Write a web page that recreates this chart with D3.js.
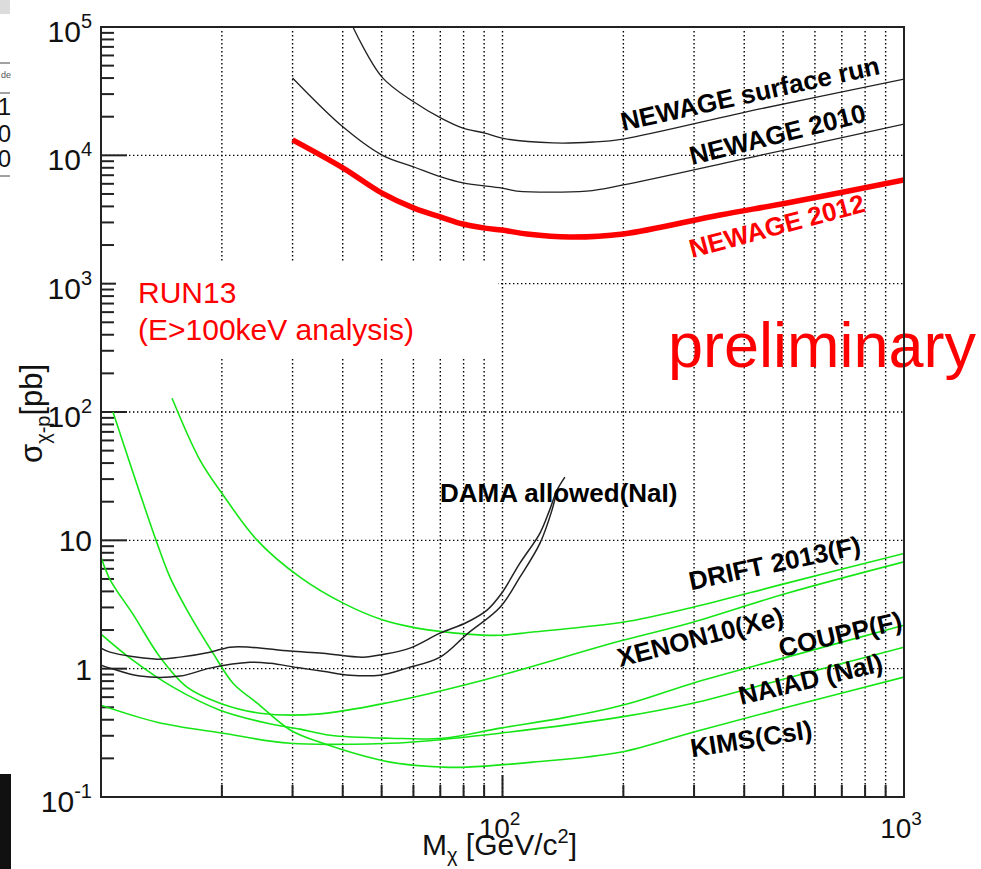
<!DOCTYPE html>
<html>
<head>
<meta charset="utf-8">
<script src="https://cdn.jsdelivr.net/npm/d3@7"></script>
<style>
	body{margin:0;background:#fff;}
	text{font-family:"Liberation Sans",Arial,Helvetica,sans-serif;}
</style>
</head>
<body>
<svg id="chart" width="981" height="869"></svg>
<script>
// ***************** DATA (mass GeV/c2, sigma pb) ********************
var newageSurface = [[42.4,1e5],[50.1,40700],[60.2,26000],[70.3,19500],[79.7,16300],[90.4,14900],[99.7,13600],[133.6,12500],[168,12700],[199.6,13400],[437.6,23000],[1000,39300]];
var newage2010 = [[30,40100],[40.1,16600],[50.1,10050],[60.2,8110],[70.3,6780],[79.7,6090],[99.7,5560],[108.5,5270],[162,5270],[199.6,5880],[437.6,10000],[1000,17500]];
var newage2012 = [[30,13200],[40.1,7960],[50.1,5080],[60.2,3880],[70.3,3300],[79.7,2915],[90.4,2710],[99.7,2615],[115,2440],[147,2310],[200,2440],[348,3430],[511,4250],[1000,6420]];
var damaUpper = [[10,1.445],[10.53,1.345],[13.79,1.186],[15.74,1.23],[18.68,1.345],[20.96,1.47],[23.5,1.47],[29.6,1.37],[35.7,1.32],[44.9,1.23],[50.4,1.29],[58.8,1.445],[69.9,1.89],[81.6,2.3],[91.5,2.86],[99.5,3.87],[110.5,6.64],[124,11.4],[131,17.2],[136.7,24.6],[143,31.1]];
var damaLower = [[10,1.065],[10.53,1.01],[12.5,0.875],[15.74,0.875],[18.68,1.01],[23.5,1.12],[26.4,1.1],[30.8,1.02],[35.7,0.955],[41.7,0.89],[49.5,0.89],[57.8,1.01],[69.9,1.23],[81.6,1.86],[98.6,3.01],[110.5,5.16],[124,9.5],[132.8,17.2],[136.7,24.6]];
var drift = [[15.03,128],[17.64,42.2],[20,23.3],[24.5,10],[31.3,5.17],[40.1,3.24],[50.4,2.39],[61.2,2.07],[81.6,1.86],[98.6,1.82],[119,1.93],[158.7,2.11],[207.7,2.35],[298,3.01],[511,4.64],[1000,7.9]];
var xenon10 = [[10,7.4],[10.53,4.95],[12.02,2.65],[14.03,1.23],[16.38,0.718],[19.79,0.538],[24.89,0.45],[34.5,0.442],[52.5,0.548],[89.4,0.813],[196.2,1.64],[298,2.3],[511,3.87],[1000,6.8]];
var coupp = [[10,1.86],[12.02,1.16],[15.11,0.718],[19.79,0.475],[25.91,0.376],[31.3,0.338],[37.2,0.303],[52.5,0.287],[71.1,0.287],[98.6,0.344],[144.7,0.419],[207.7,0.538],[298,0.771],[511,1.23],[1000,2.18]];
var naiad = [[10,0.519],[13.79,0.383],[20.13,0.314],[29.6,0.262],[52.5,0.262],[58.8,0.267],[98.6,0.314],[196.2,0.419],[298,0.538],[511,0.843],[1000,1.47]];
var kims = [[10.71,99.8],[12.5,23.3],[13.79,9.51],[14.85,5.17],[16.38,2.86],[19.01,1.32],[21.32,0.771],[24.5,0.538],[29.6,0.333],[35.7,0.262],[52.5,0.187],[71.1,0.171],[81.6,0.171],[119,0.187],[196.2,0.223],[298,0.32],[511,0.501],[1000,0.859]];

var yDecades = [1e5,1e4,1e3,1e2,10,1,0.1];
var yLabelBase = ['10','10','10','10','10','1','10'];
var yLabelExp = ['5','4','3','2','','','-1'];
var xMajor = [100,1000];
var xLabelExp = ['2','3'];

// curve labels: text, anchor mass, anchor sigma, angle
var curveLabels = [
	{text:'NEWAGE surface run', m:199.5, s:15460, angle:-12.5, fill:'#000'},
	{text:'NEWAGE 2010', m:296.5, s:8400, angle:-14, fill:'#000'},
	{text:'NEWAGE 2012', m:296.5, s:1585, angle:-15, fill:'#f00'},
	{text:'DAMA allowed(NaI)', m:69.9, s:19.9, angle:0, fill:'#000'},
	{text:'DRIFT 2013(F)', m:294.8, s:4.09, angle:-12, fill:'#000'},
	{text:'XENON10(Xe)', m:196.2, s:1.03, angle:-14.5, fill:'#000'},
	{text:'COUPP(F)', m:493.9, s:1.23, angle:-13, fill:'#000'},
	{text:'NAIAD (NaI)', m:392.6, s:0.52, angle:-13.5, fill:'#000'},
	{text:'KIMS(CsI)', m:296.5, s:0.204, angle:-9, fill:'#000'}
];

// ***************** SCALES ********************
var margin = {left:101, right:904, top:27, bottom:797};
var svg = d3.select('#chart');
var x = d3.scaleLog().domain([10,1000]).range([margin.left, margin.right]);
var y = d3.scaleLog().domain([0.1,1e5]).range([margin.bottom, margin.top]);

// minor positions inside each decade
var minorVals = function(lo, hi){
	var out = [];
	for (var d = lo; d < hi; d *= 10) {
		for (var k = 2; k < 10; k++) out.push(d*k);
	}
	return out;
};
var xMinor = minorVals(10,1000);
var yMinor = minorVals(0.1,1e5);

// ***************** LEFT EDGE LEFTOVERS OF THE SLIDE ********************
var drawLeftovers = function(){
	svg.append('rect').attr('x',0).attr('y',0).attr('width',10).attr('height',14).attr('fill','#dcdcdc');
	svg.append('line').attr('x1',0).attr('x2',10).attr('y1',63).attr('y2',63).attr('stroke','#444');
	svg.append('line').attr('x1',0).attr('x2',10).attr('y1',93).attr('y2',93).attr('stroke','#444');
	svg.append('line').attr('x1',0).attr('x2',10).attr('y1',176).attr('y2',176).attr('stroke','#444');
	svg.append('text').attr('x',11).attr('y',78).attr('text-anchor','end').attr('font-size',9).attr('fill','#555').text('de');
	[['1',115],['0',142],['0',167]].forEach(function(t){
		svg.append('text').attr('x',11).attr('y',t[1]).attr('text-anchor','end').attr('font-size',24).attr('fill','#111').text(t[0]);
	});
	svg.append('rect').attr('x',0).attr('y',774).attr('width',11).attr('height',95).attr('fill','#111');
};

// ***************** GRID ********************
var drawGrid = function(){
	var vx = xMinor.concat([100]);
	svg.selectAll('.vgrid').data(vx).enter().append('line').classed('vgrid',true)
		.attr('x1',function(d){return x(d)}).attr('x2',function(d){return x(d)})
		.attr('y1',margin.top+4).attr('y2',margin.bottom)
		.attr('stroke','#000').attr('stroke-width',1.4).attr('stroke-dasharray','1.4,2.6');
	var hy = [1e4,1e3,1e2,10,1];
	svg.selectAll('.hgrid').data(hy).enter().append('line').classed('hgrid',true)
		.attr('x1',margin.left).attr('x2',margin.right)
		.attr('y1',function(d){return y(d)}).attr('y2',function(d){return y(d)})
		.attr('stroke','#000').attr('stroke-width',1.4).attr('stroke-dasharray','1.4,2.6');
};

// ***************** TICKS ********************
var drawTicks = function(){
	var g = svg.append('g').attr('stroke','#222').attr('stroke-width',2);
	g.selectAll('.ymin').data(yMinor).enter().append('line')
		.attr('x1',margin.left).attr('x2',margin.left+13)
		.attr('y1',function(d){return y(d)}).attr('y2',function(d){return y(d)});
	g.selectAll('.ymaj').data(yDecades).enter().append('line')
		.attr('x1',margin.left).attr('x2',margin.left+26)
		.attr('y1',function(d){return y(d)}).attr('y2',function(d){return y(d)});
	g.selectAll('.xmin').data(xMinor).enter().append('line')
		.attr('x1',function(d){return x(d)}).attr('x2',function(d){return x(d)})
		.attr('y1',margin.bottom).attr('y2',margin.bottom-12);
	g.selectAll('.xmaj').data(xMajor).enter().append('line')
		.attr('x1',function(d){return x(d)}).attr('x2',function(d){return x(d)})
		.attr('y1',margin.bottom).attr('y2',margin.bottom-22);
};

// ***************** CURVES ********************
var line = d3.line()
	.x(function(d){return x(d[0])})
	.y(function(d){return y(d[1])})
	.curve(d3.curveCatmullRom.alpha(0.5));

var drawCurve = function(data, color, width){
	svg.append('path')
		.datum(data)
		.attr('clip-path','url(#plotclip)')
		.attr('d',line)
		.attr('fill','none')
		.attr('stroke',color)
		.attr('stroke-width',width)
		.attr('stroke-linejoin','round');
};

svg.append('defs').append('clipPath').attr('id','plotclip')
	.append('rect').attr('x',margin.left).attr('y',margin.top)
	.attr('width',margin.right-margin.left).attr('height',margin.bottom-margin.top);

drawLeftovers();
drawGrid();
drawTicks();

// white box behind the run label
svg.append('rect').attr('x',116).attr('y',261).attr('width',382).attr('height',97).attr('fill','#fff');

var green = '#16e616';
[drift, xenon10, coupp, naiad, kims].forEach(function(s){ drawCurve(s, green, 1.6) });
drawCurve(damaUpper,'#222',1.5);
drawCurve(damaLower,'#222',1.5);
drawCurve(newageSurface,'#222',1.3);
drawCurve(newage2010,'#222',1.3);
drawCurve(newage2012,'#ff0000',5.5);

// ***************** TEXT ********************
svg.selectAll('.clabel').data(curveLabels).enter().append('text').classed('clabel',true)
	.attr('transform',function(d){return 'translate('+x(d.m)+','+y(d.s)+') rotate('+d.angle+')'})
	.attr('font-size',26).attr('font-weight','bold')
	.attr('fill',function(d){return d.fill})
	.text(function(d){return d.text});

var run = svg.append('text').attr('x',138).attr('y',303).attr('font-size',30).attr('fill','#f00');
run.append('tspan').attr('x',138).text('RUN13');
run.append('tspan').attr('x',138).attr('dy',37).text('(E>100keV analysis)');

svg.append('text').attr('x',668).attr('y',367).attr('font-size',63).attr('fill','#f00').text('preliminary');

// y tick labels
yDecades.forEach(function(v,i){
	var t = svg.append('text').attr('x',92).attr('y',y(v)+(yLabelExp[i] ? 15 : 11))
		.attr('text-anchor','end').attr('font-size',30).attr('fill','#111');
	t.append('tspan').text(yLabelBase[i]);
	if (yLabelExp[i]) t.append('tspan').attr('dy',-14).attr('font-size',20).text(yLabelExp[i]);
});
// x tick labels
xMajor.forEach(function(v,i){
	var t = svg.append('text').attr('x',x(v)-3).attr('y',838)
		.attr('text-anchor','middle').attr('font-size',28).attr('fill','#111');
	t.append('tspan').text('10');
	t.append('tspan').attr('dy',-13).attr('font-size',19).text(xLabelExp[i]);
});

// axis titles
var xt = svg.append('text').attr('x',422).attr('y',855).attr('font-size',30).attr('fill','#111');
xt.append('tspan').text('M');
xt.append('tspan').attr('dy',7).attr('font-size',20).text('\u03c7');
xt.append('tspan').attr('dy',-7).text(' [GeV/c');
xt.append('tspan').attr('dy',-12).attr('font-size',20).text('2');
xt.append('tspan').attr('dy',12).text(']');

var yt = svg.append('text').attr('transform','translate(42,463) rotate(-90)').attr('font-size',31).attr('fill','#111');
yt.append('tspan').text('\u03c3');
yt.append('tspan').attr('dy',8).attr('font-size',20).text('\u03c7-p');
yt.append('tspan').attr('dy',-8).text('[pb]');

// frame on top
svg.append('rect').attr('x',margin.left).attr('y',margin.top)
	.attr('width',margin.right-margin.left).attr('height',margin.bottom-margin.top)
	.attr('fill','none').attr('stroke','#222').attr('stroke-width',2);
</script>
</body>
</html>
